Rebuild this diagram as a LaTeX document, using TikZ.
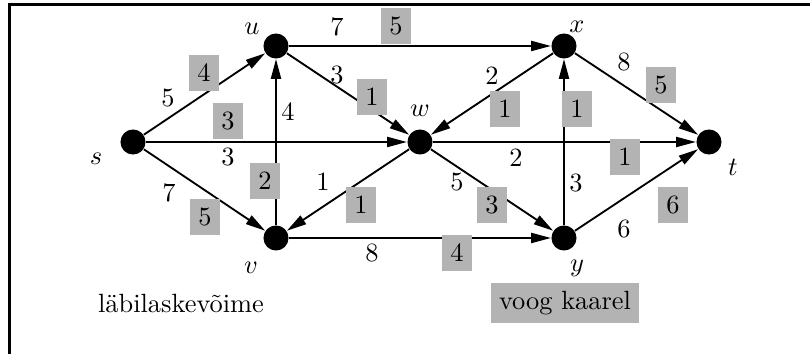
\documentclass[tikz,border=0pt]{standalone}
\usepackage{tikz}
\usetikzlibrary{arrows.meta}
\definecolor{flowgray}{RGB}{179,179,179}

\begin{document}
\begin{tikzpicture}[x=0.379pt,y=-0.379pt,
  vertex/.style={circle,fill=black,inner sep=0pt,minimum size=9.5pt},
  arc/.style={line width=0.7pt,-{Triangle[length=7.5pt,width=3.8pt]}},
  flow/.style={fill=flowgray,inner sep=0pt,minimum width=11.7pt,minimum height=13.3pt}]
\useasboundingbox (0,0) rectangle (810,354);
% Frame
\draw[line width=1.1pt] (9.5,354) -- (9.5,4.5) -- (810,4.5);

% Vertices
\node[vertex] (s) at (133,142) {};
\node[vertex] (u) at (276,46) {};
\node[vertex] (v) at (276,238) {};
\node[vertex] (w) at (420,142) {};
\node[vertex] (x) at (564,46) {};
\node[vertex] (y) at (564,238) {};
\node[vertex] (t) at (709,142) {};

% Vertex names
\node (ls) at (96,159) {$s$};
\node (lu) at (252,29) {$u$};
\node (lv) at (251,268) {$v$};
\node (lw) at (420,111) {$w$};
\node (lx) at (577,27) {$x$};
\node (ly) at (577,268) {$y$};
\node (lt) at (733,167) {$t$};

% Arcs
\draw[arc] (s) -- (u);
\draw[arc] (s) -- (w);
\draw[arc] (s) -- (v);
\draw[arc] (u) -- (x);
\draw[arc] (u) -- (w);
\draw[arc] (v) -- (u);
\draw[arc] (w) -- (v);
\draw[arc] (x) -- (w);
\draw[arc] (w) -- (t);
\draw[arc] (w) -- (y);
\draw[arc] (v) -- (y);
\draw[arc] (y) -- (x);
\draw[arc] (x) -- (t);
\draw[arc] (y) -- (t);

% Capacities
\node (csu) at (168,98) {5};
\node (csw) at (228,157) {3};
\node (csv) at (169,193) {7};
\node (cux) at (337,27) {7};
\node (cuw) at (337,75) {3};
\node (cvu) at (288,112) {4};
\node (cwv) at (323,182) {1};
\node (cxw) at (492,76) {2};
\node (cwt) at (516,158) {2};
\node (cwy) at (457,182) {5};
\node (cvy) at (372,253) {8};
\node (cyx) at (576,183) {3};
\node (cxt) at (624,62) {8};
\node (cyt) at (624,229) {6};

% Flows
\node[flow] (fsu) at (204,73) {4};
\node[flow] (fsw) at (228,121) {3};
\node[flow] (fsv) at (205,217) {5};
\node[flow] (fux) at (396,26) {5};
\node[flow] (fuw) at (372,97) {1};
\node[flow] (fvu) at (265,181) {2};
\node[flow] (fwv) at (361,205) {1};
\node[flow] (fxw) at (505,109) {1};
\node[flow] (fwt) at (625,157) {1};
\node[flow] (fwy) at (492,205) {3};
\node[flow] (fvy) at (457,253) {4};
\node[flow] (fyx) at (577,109) {1};
\node[flow] (fxt) at (661,85) {5};
\node[flow] (fyt) at (673,205) {6};

% Legend
\node (capkey) at (181,303) {läbilaskevõime};
\node[flow,minimum width=56pt,minimum height=15.5pt] (flowkey) at (565,303) {voog kaarel};
\end{tikzpicture}
\end{document}
